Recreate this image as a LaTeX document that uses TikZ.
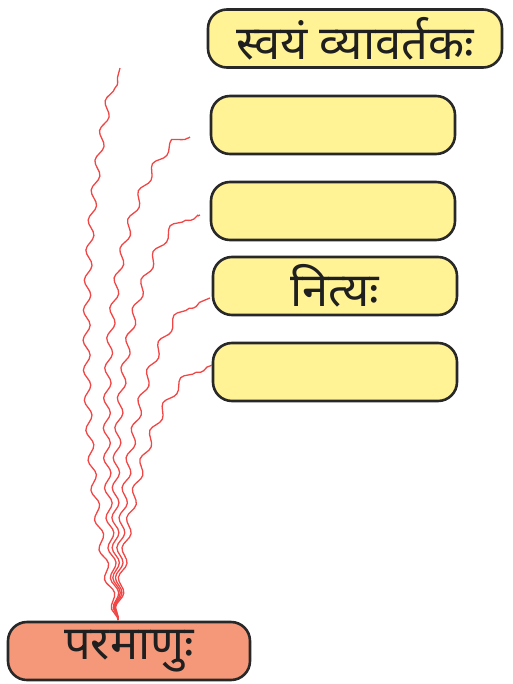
\documentclass[tikz,border=0pt]{standalone}
\usepackage{fontspec}
\newfontfamily\deva[Script=Devanagari]{Noto Sans}
\usetikzlibrary{decorations.pathmorphing}
\definecolor{boxyellow}{RGB}{255,243,150}
\definecolor{boxsalmon}{RGB}{245,152,122}
\definecolor{boxline}{RGB}{40,40,40}
\definecolor{wavered}{RGB}{240,70,70}
\tikzset{
  pill/.style={draw=boxline, line width=2.6pt, rounded corners=19pt, fill=boxyellow,
    minimum height=58pt, inner sep=0pt, font=\deva\fontsize{47}{52}\selectfont, text=black!88},
  wave/.style={draw=wavered, line width=1.3pt,
    decorate, decoration={snake, segment length=30pt, amplitude=3.5pt, pre length=3pt, post length=2pt}}
}
\begin{document}
\begin{tikzpicture}[x=1pt,y=-1pt]
\useasboundingbox (0,0) rectangle (512,684);
\node[pill, minimum width=294pt] (b1) at (355,38.5) {स्वयं व्यावर्तकः};
\node[pill, minimum width=244pt] (b2) at (333,125) {};
\node[pill, minimum width=244pt] (b3) at (333,211) {};
\node[pill, minimum width=244pt] (b4) at (335,286) {नित्यः};
\node[pill, minimum width=244pt] (b5) at (335,372) {};
\node[pill, fill=boxsalmon, minimum width=242pt] (p) at (129,651) {परमाणुः};
\coordinate (o) at (118,620);
\coordinate (e1) at (120,68);
\coordinate (e2) at (190,137);
\coordinate (e3) at (200,215);
\coordinate (e4) at (210,298);
\coordinate (e5) at (212,365);
\draw[wave] (o) .. controls (85,500) and (72,250) .. (e1);
\draw[wave] (o) .. controls (100,450) and (95,200) .. (e2);
\draw[wave] (o) .. controls (110,450) and (120,250) .. (e3);
\draw[wave] (o) .. controls (120,450) and (150,320) .. (e4);
\draw[wave] (o) .. controls (130,470) and (160,390) .. (e5);
\end{tikzpicture}
\end{document}
